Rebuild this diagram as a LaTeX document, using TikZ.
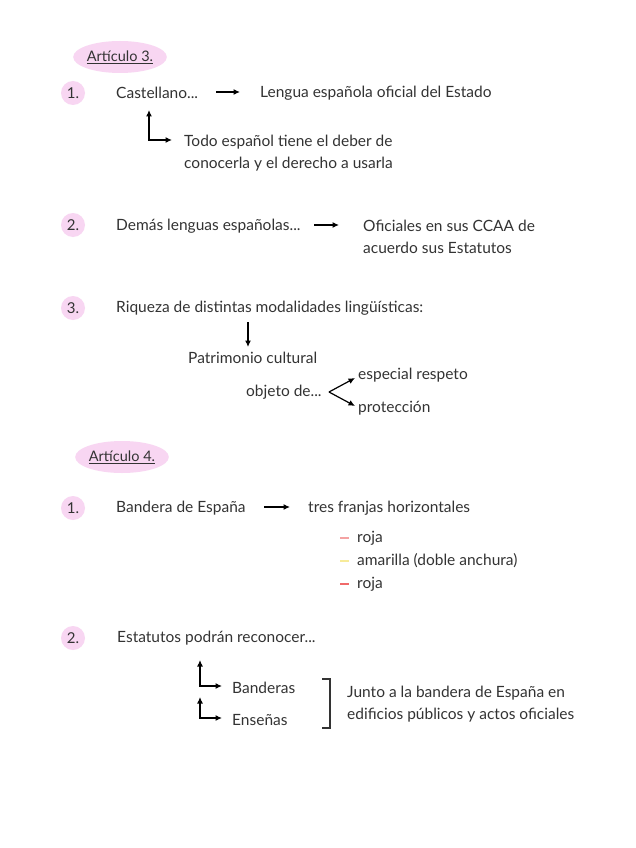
\documentclass[tikz,border=0pt]{standalone}
\usepackage{fontspec}
\setmainfont{Lato}
\usetikzlibrary{arrows.meta,shapes.geometric}
\definecolor{ink}{HTML}{333333}
\definecolor{blob}{HTML}{F8D6F2}
\definecolor{rojo1}{HTML}{F4A3A3}
\definecolor{amar}{HTML}{F7EB9A}
\definecolor{rojo2}{HTML}{F06A6A}
\tikzset{
  fnt/.style={font=\fontsize{15.5}{18}\selectfont},
  txt/.style={anchor=west, inner sep=0pt, text=ink, fnt},
  num/.style={circle, fill=blob, minimum size=24pt, inner sep=0pt, text=ink, font=\fontsize{15}{16}\selectfont},
  head/.style={ellipse, fill=blob, minimum width=84pt, minimum height=32pt, inner sep=0pt, text=ink, font=\fontsize{14.5}{16}\selectfont},
  tip/.tip={Latex[length=6.5pt,width=6pt]},
  arr/.style={-tip, line width=1.2pt, black},
  darr/.style={tip-tip, line width=1.2pt, black},
  dashline/.style={line width=1.3pt},
}
\begin{document}
\begin{tikzpicture}[x=1pt,y=-1pt]
\useasboundingbox (0,0) rectangle (636,848);
\fill[white] (0,0) rectangle (636,848);
% Articulo 3
\node[head] (h3) at (120,57) {\underline{Artículo 3.}};
\node[num] (n31) at (73,93) {1.};
\node[txt] (cast) at (116,93) {Castellano...};
\node[txt] (leng) at (260,93) {Lengua española oficial del Estado};
\coordinate (a1s) at (216,92);
\coordinate (a1e) at (240,92);
\draw[arr] (a1s) -- (a1e);
\node[txt, align=left] (todo) at (184,153) {Todo español tiene el deber de\\[4pt]conocerla y el derecho a usarla};
\coordinate (e1top) at (149,110);
\coordinate (e1cor) at (149,140);
\coordinate (e1end) at (172,140);
\draw[darr] (e1top) -- (e1cor) -- (e1end);
\node[num] (n32) at (73,225) {2.};
\node[txt] (demas) at (116,226) {Demás lenguas españolas...};
\node[txt, align=left] (ofic) at (363,237) {Oficiales en sus CCAA de\\[4pt]acuerdo sus Estatutos};
\coordinate (a2s) at (314,225);
\coordinate (a2e) at (339,225);
\draw[arr] (a2s) -- (a2e);
\node[num] (n33) at (73,308) {3.};
\node[txt] (riq) at (116,308) {Riqueza de distintas modalidades lingüísticas:};
\node[txt] (patr) at (188,358) {Patrimonio cultural};
\coordinate (a3s) at (248,322);
\coordinate (a3e) at (248,347);
\draw[arr] (a3s) -- (a3e);
\node[txt] (obj) at (246,392) {objeto de...};
\node[txt] (esp) at (358,375) {especial respeto};
\node[txt] (prot) at (358,408) {protección};
\coordinate (fk) at (329,392);
\coordinate (fk1) at (355,378);
\coordinate (fk2) at (355,406);
\draw[arr] (fk) -- (fk1);
\draw[arr] (fk) -- (fk2);
% Articulo 4
\node[head] (h4) at (122,457) {\underline{Artículo 4.}};
\node[num] (n41) at (73,508) {1.};
\node[txt] (band) at (116,508) {Bandera de España};
\node[txt] (tres) at (308,508) {tres franjas horizontales};
\coordinate (a4s) at (264,507);
\coordinate (a4e) at (290,507);
\draw[arr] (a4s) -- (a4e);
\node[txt] (r1) at (357,538) {roja};
\node[txt] (am) at (357,561) {amarilla (doble anchura)};
\node[txt] (r2) at (357,584) {roja};
\draw[dashline, rojo1] (340,538) -- (349,538);
\draw[dashline, amar] (340,561) -- (349,561);
\draw[dashline, rojo2] (340,584) -- (349,584);
\node[num] (n42) at (73,638) {2.};
\node[txt] (est) at (117,638) {Estatutos podrán reconocer...};
\node[txt] (bds) at (232,688) {Banderas};
\node[txt] (ens) at (232,720) {Enseñas};
\coordinate (b1t) at (200,660);
\coordinate (b1c) at (200,686);
\coordinate (b1e) at (222,686);
\coordinate (b2t) at (200,697);
\coordinate (b2c) at (200,718);
\coordinate (b2e) at (222,718);
\draw[darr] (b1t) -- (b1c) -- (b1e);
\draw[darr] (b2t) -- (b2c) -- (b2e);
\coordinate (br1) at (322,679);
\coordinate (br2) at (330,679);
\coordinate (br3) at (330,728);
\coordinate (br4) at (322,728);
\draw[line width=1.2pt, ink] (br1) -- (br2) -- (br3) -- (br4);
\node[txt, align=left] (junto) at (347,704) {Junto a la bandera de España en\\[4pt]edificios públicos y actos oficiales};
\end{tikzpicture}
\end{document}
